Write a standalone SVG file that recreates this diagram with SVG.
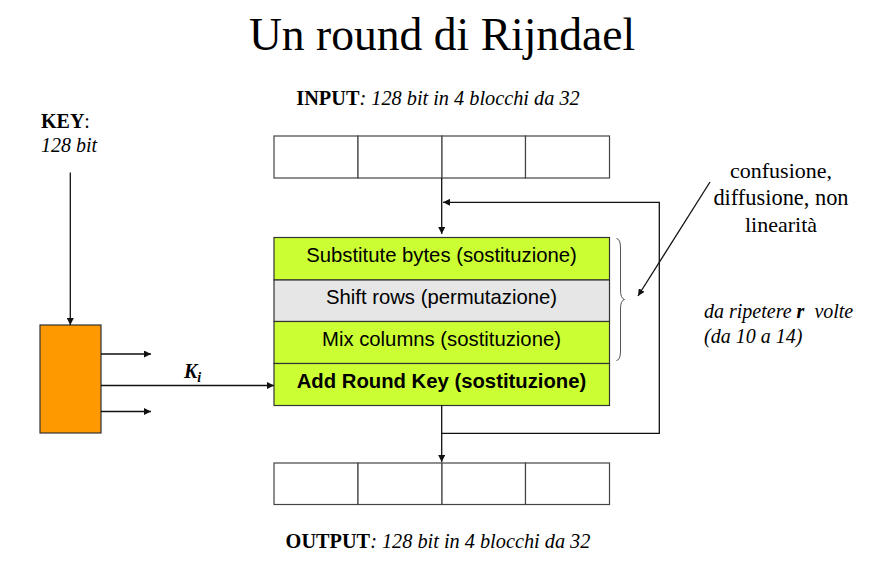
<svg xmlns="http://www.w3.org/2000/svg" width="880" height="566" viewBox="0 0 880 566">
<style>
.serif{font-family:"Liberation Serif","Times New Roman",serif;fill:#000}
.sans{font-family:"Liberation Sans",Arial,sans-serif;fill:#000;font-size:20.3px}
.cell{fill:#fff;stroke:#444;stroke-width:1.2}
.row{stroke:#333;stroke-width:1.2}
.green{fill:#ccff33}
.gray{fill:#e6e6e6}
.conn{fill:none;stroke:#111;stroke-width:1.3}
</style>
<defs>
<marker id="ah" viewBox="0 0 10 10" refX="10" refY="5" markerWidth="7" markerHeight="7" markerUnits="userSpaceOnUse" orient="auto">
<path d="M0,0 L10,5 L0,10 z" fill="#111"/>
</marker>
</defs>

<text class="serif" x="442" y="50" font-size="45.6" text-anchor="middle">Un round di Rijndael</text>

<g id="input">
<text class="serif" x="438" y="105" font-size="20.3" text-anchor="middle"><tspan font-weight="bold">INPUT</tspan><tspan font-style="italic">: 128 bit in 4 blocchi da 32</tspan></text>
<rect class="cell" x="274" y="136" width="84" height="42"/>
<rect class="cell" x="358" y="136" width="84" height="42"/>
<rect class="cell" x="442" y="136" width="83.5" height="42"/>
<rect class="cell" x="525.5" y="136" width="84" height="42"/>
</g>

<g id="key">
<text class="serif" x="41" y="128" font-size="20"><tspan font-weight="bold">KEY</tspan>:</text>
<text class="serif" x="41" y="152" font-size="20" font-style="italic">128 bit</text>
</g>

<g id="keyschedule">
<rect x="40" y="325" width="61" height="108" fill="#ff9900" stroke="#333" stroke-width="1.2"/>
</g>

<g id="round">
<rect class="row green" x="274" y="237.5" width="335.5" height="42.5"/>
<rect class="row gray" x="274" y="280" width="335.5" height="41.5"/>
<rect class="row green" x="274" y="321.5" width="335.5" height="42"/>
<rect class="row green" x="274" y="363.5" width="335.5" height="42"/>
<text class="sans" x="441.5" y="262" text-anchor="middle">Substitute bytes (sostituzione)</text>
<text class="sans" x="441.5" y="304" text-anchor="middle">Shift rows (permutazione)</text>
<text class="sans" x="441.5" y="346" text-anchor="middle">Mix columns (sostituzione)</text>
<text class="sans" x="441.5" y="388" text-anchor="middle" font-weight="bold">Add Round Key (sostituzione)</text>
</g>

<g id="brace">
<path d="M616.5,238.5 Q620.5,239 620.5,248 L620.5,290 Q620.5,298.5 624.5,299.5 Q620.5,300.5 620.5,309 L620.5,351 Q620.5,360 616.5,360.5" fill="none" stroke="#555" stroke-width="1"/>
</g>

<g id="output">
<rect class="cell" x="274" y="463" width="84" height="41.5"/>
<rect class="cell" x="358" y="463" width="84" height="41.5"/>
<rect class="cell" x="442" y="463" width="83.5" height="41.5"/>
<rect class="cell" x="525.5" y="463" width="84" height="41.5"/>
<text class="serif" x="438" y="548" font-size="20.3" text-anchor="middle"><tspan font-weight="bold">OUTPUT</tspan><tspan font-style="italic">: 128 bit in 4 blocchi da 32</tspan></text>
</g>

<g id="note">
<text class="serif" x="781" y="178" font-size="22" text-anchor="middle">confusione,</text>
<text class="serif" x="781" y="205" font-size="22.4" text-anchor="middle">diffusione, non</text>
<text class="serif" x="781" y="232" font-size="22" text-anchor="middle">linearità</text>
</g>

<g id="repeat">
<text class="serif" x="704" y="318" font-size="20" font-style="italic" xml:space="preserve">da ripetere <tspan font-weight="bold">r</tspan>  volte</text>
<text class="serif" x="704" y="343" font-size="20" font-style="italic">(da 10 a 14)</text>
</g>

<g id="connectors">
<line class="conn" x1="70.3" y1="172.5" x2="70.3" y2="325" marker-end="url(#ah)"/>
<line class="conn" x1="101" y1="354" x2="151" y2="354" marker-end="url(#ah)"/>
<line class="conn" x1="101" y1="385.5" x2="274" y2="385.5" marker-end="url(#ah)"/>
<line class="conn" x1="101" y1="411.5" x2="151" y2="411.5" marker-end="url(#ah)"/>
<line class="conn" x1="441.7" y1="178" x2="441.7" y2="234" marker-end="url(#ah)"/>
<polyline class="conn" points="441.7,405.5 441.7,433.3 659.3,433.3 659.3,202.3 443,202.3" marker-end="url(#ah)"/>
<line class="conn" x1="441.7" y1="433" x2="441.7" y2="462" marker-end="url(#ah)"/>
<line class="conn" x1="710" y1="182" x2="638" y2="296" marker-end="url(#ah)"/>
<text class="serif" x="184" y="378" font-size="20" font-weight="bold" font-style="italic">K<tspan font-size="14" dy="4">i</tspan></text>
</g>
</svg>
